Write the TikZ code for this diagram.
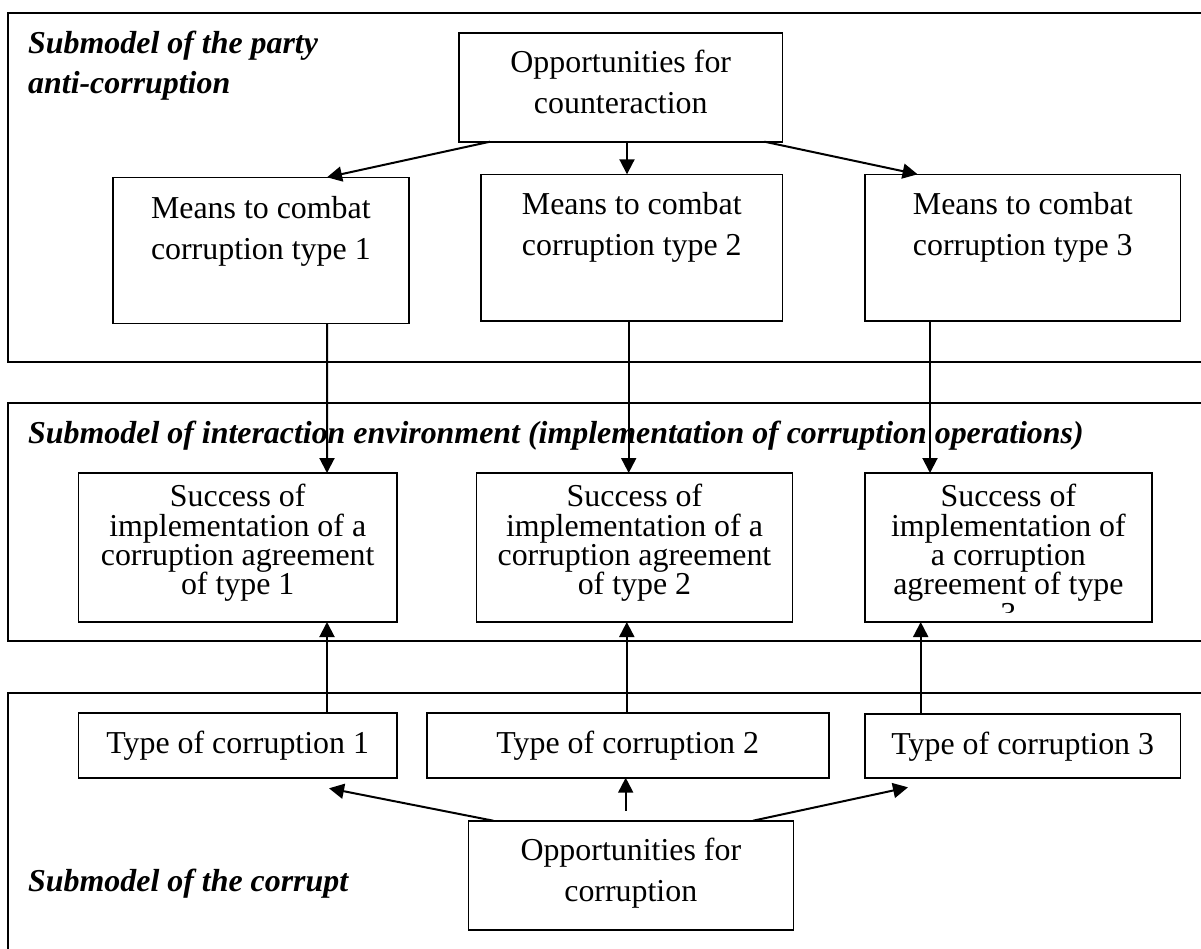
\documentclass[tikz,border=0pt]{standalone}
\usepackage{fontspec}
\setmainfont{Liberation Serif}
\usetikzlibrary{arrows.meta}

\begin{document}
\begin{tikzpicture}[
    x=1pt, y=-1pt,
    box/.style={rectangle, draw, line width=1.6pt, anchor=north west, inner sep=0pt, outer sep=0pt, align=flush center, font=\fontsize{31.9}{41}\selectfont},
    succbox/.style={box, text height=33.7pt, text depth=115.3pt, font=\fontsize{31.9}{29.4}\selectfont},
    typebox/.style={box, text height=40.3pt, text depth=24.7pt},
    panel/.style={draw, line width=2pt},
    title/.style={anchor=base west, inner sep=0pt, align=flush left, font=\fontsize{31.9}{40}\selectfont\bfseries\itshape},
    arrow/.style={->, line width=2pt, >={Triangle[length=15pt, width=15pt]}}
]
\useasboundingbox (0,0) rectangle (1201,948);
\clip (0,0) rectangle (1201,948);

% the three submodels, running off the page on the right
\draw[panel] (8.4,12.7) rectangle (1215,362);
\draw[panel] (8,402.7) rectangle (1215,641);
\draw[panel] (8,693.3) rectangle (1215,960);

\node[title, text width=400pt] (partylabel) at (28,53) {Submodel of the party\\anti-corruption};
\node[title] (envlabel) at (28,443) {Submodel of interaction environment (implementation of corruption operations)};
\node[title] (corruptlabel) at (28,891.7) {Submodel of the corrupt};

% party anti-corruption
\node[box, text width=323.5pt, text height=39.3pt, text depth=69.7pt] (counter) at (459,32.7) {Opportunities for\\counteraction};
\node[box, text width=295.7pt, text height=40.7pt, text depth=105.3pt] (means1) at (113,177.3) {Means to combat\\corruption type 1};
\node[box, text width=301.5pt, text height=40pt, text depth=106.4pt] (means2) at (481,174.3) {Means to combat\\corruption type 2};
\node[box, text width=315.5pt, text height=40pt, text depth=106.7pt] (means3) at (865,174.3) {Means to combat\\corruption type 3};

% interaction environment
\node[succbox, text width=318.6pt] (succ1) at (78.4,473) {Success of\\implementation of a\\corruption agreement\\of type 1};
\node[succbox, text width=316.1pt] (succ2) at (476.4,473) {Success of\\implementation of a\\corruption agreement\\of type 2};
\node[succbox, text width=286.8pt] (succ3) at (865,473) {Success of\\implementation of\\a corruption\\agreement of type};
\begin{scope}
  % last line does not fit in the box
  \clip (succ3.north west) rectangle ([yshift=10pt]succ3.south east);
  \node[anchor=base, inner sep=0pt, font=\fontsize{31.9}{29.4}\selectfont] (succ3num) at ([yshift=-151.3pt]succ3.north) {3};
\end{scope}

% the corrupt
\node[typebox, text width=318.6pt] (type1) at (78.4,712.7) {Type of corruption 1};
\node[typebox, text width=402.1pt] (type2) at (426.7,712.7) {Type of corruption 2};
\node[typebox, text width=315.5pt, text height=40pt, text depth=24pt] (type3) at (865,714) {Type of corruption 3};
\node[box, text width=325pt, text height=39.3pt, text depth=70pt] (chances) at (468.3,820.7) {Opportunities for\\corruption};

\draw[arrow] ([xshift=-130.75pt]counter.south) -- ([xshift=66.15pt]means1.north);
\draw[arrow] ([xshift=6.25pt]counter.south) -- ([xshift=-4.75pt]means2.north);
\draw[arrow] ([xshift=143.75pt]counter.south) -- ([xshift=-105.15pt]means3.north);
\draw[arrow] ([xshift=66.15pt]means1.south) -- ([xshift=89.3pt]succ1.north);
\draw[arrow] ([xshift=-3.05pt]means2.south) -- ([xshift=-5.75pt]succ2.north);
\draw[arrow] ([xshift=-92.75pt]means3.south) -- ([xshift=-78.4pt]succ3.north);
\draw[arrow] ([xshift=89.3pt]type1.north) -- ([xshift=89.3pt]succ1.south);
\draw[arrow] ([xshift=-0.95pt]type2.north) -- ([xshift=-7.65pt]succ2.south);
\draw[arrow] ([xshift=-102.05pt]type3.north) -- ([xshift=-87.7pt]succ3.south);
\draw[arrow] ([xshift=-137.5pt]chances.north) -- ([xshift=91.3pt, yshift=-10.6pt]type1.south);
\draw[arrow] ([xshift=-5.1pt, yshift=10pt]chances.north) -- ([xshift=-2.05pt]type2.south);
\draw[arrow] ([xshift=122.2pt]chances.north) -- ([xshift=-114.75pt, yshift=-9.3pt]type3.south);
\end{tikzpicture}
\end{document}
